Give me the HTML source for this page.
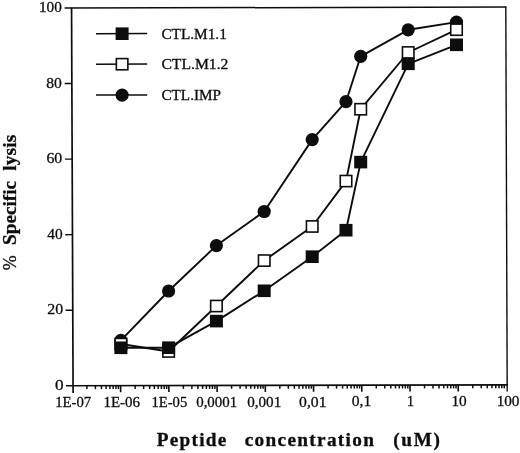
<!DOCTYPE html>
<html><head><meta charset="utf-8"><title>Peptide concentration vs specific lysis</title>
<style>
html,body{margin:0;padding:0;background:#fff;}
svg{display:block;filter:grayscale(1);}
text{font-family:"Liberation Serif","DejaVu Serif",serif;fill:#0d0d0d;stroke:#0d0d0d;stroke-width:0.3px;}
</style></head><body>
<svg width="520" height="453" viewBox="0 0 520 453">
<rect width="520" height="453" fill="#fff"/>

<g stroke="#0d0d0d" fill="none" stroke-linecap="butt">
<line x1="64.6" y1="8.1" x2="506.3" y2="7.0" stroke-width="1.5"/>
<line x1="505.8" y1="6.5" x2="507.2" y2="391.4" stroke-width="1.4"/>
<line x1="71.55" y1="7.4" x2="73.1" y2="393.0" stroke-width="1.7"/>
<line x1="66" y1="385.75" x2="507.8" y2="384.85" stroke-width="1.7"/>
<line x1="65.60" y1="310.24" x2="72.80" y2="310.22" stroke-width="1.4"/>
<line x1="65.30" y1="234.68" x2="72.50" y2="234.66" stroke-width="1.4"/>
<line x1="64.99" y1="159.12" x2="72.19" y2="159.10" stroke-width="1.4"/>
<line x1="64.69" y1="83.56" x2="71.89" y2="83.54" stroke-width="1.4"/>
<line x1="86.92" y1="385.80" x2="86.92" y2="389.10" stroke-width="1.5"/>
<line x1="95.41" y1="385.80" x2="95.41" y2="389.10" stroke-width="1.5"/>
<line x1="101.44" y1="385.80" x2="101.44" y2="389.10" stroke-width="1.5"/>
<line x1="106.11" y1="385.80" x2="106.11" y2="389.10" stroke-width="1.5"/>
<line x1="109.93" y1="385.80" x2="109.93" y2="389.10" stroke-width="1.5"/>
<line x1="113.16" y1="385.80" x2="113.16" y2="389.10" stroke-width="1.5"/>
<line x1="115.96" y1="385.80" x2="115.96" y2="389.10" stroke-width="1.5"/>
<line x1="118.42" y1="385.80" x2="118.42" y2="389.10" stroke-width="1.5"/>
<line x1="120.63" y1="385.70" x2="120.65" y2="392.20" stroke-width="1.6"/>
<line x1="135.15" y1="385.70" x2="135.15" y2="389.00" stroke-width="1.5"/>
<line x1="143.64" y1="385.70" x2="143.64" y2="389.00" stroke-width="1.5"/>
<line x1="149.67" y1="385.70" x2="149.67" y2="389.00" stroke-width="1.5"/>
<line x1="154.34" y1="385.70" x2="154.34" y2="389.00" stroke-width="1.5"/>
<line x1="158.16" y1="385.70" x2="158.16" y2="389.00" stroke-width="1.5"/>
<line x1="161.39" y1="385.70" x2="161.39" y2="389.00" stroke-width="1.5"/>
<line x1="164.19" y1="385.70" x2="164.19" y2="389.00" stroke-width="1.5"/>
<line x1="166.65" y1="385.70" x2="166.65" y2="389.00" stroke-width="1.5"/>
<line x1="168.86" y1="385.60" x2="168.88" y2="392.10" stroke-width="1.6"/>
<line x1="183.38" y1="385.60" x2="183.38" y2="388.90" stroke-width="1.5"/>
<line x1="191.87" y1="385.60" x2="191.87" y2="388.90" stroke-width="1.5"/>
<line x1="197.90" y1="385.60" x2="197.90" y2="388.90" stroke-width="1.5"/>
<line x1="202.57" y1="385.60" x2="202.57" y2="388.90" stroke-width="1.5"/>
<line x1="206.39" y1="385.60" x2="206.39" y2="388.90" stroke-width="1.5"/>
<line x1="209.62" y1="385.60" x2="209.62" y2="388.90" stroke-width="1.5"/>
<line x1="212.42" y1="385.60" x2="212.42" y2="388.90" stroke-width="1.5"/>
<line x1="214.88" y1="385.60" x2="214.88" y2="388.90" stroke-width="1.5"/>
<line x1="217.09" y1="385.50" x2="217.11" y2="392.00" stroke-width="1.6"/>
<line x1="231.61" y1="385.50" x2="231.61" y2="388.80" stroke-width="1.5"/>
<line x1="240.10" y1="385.50" x2="240.10" y2="388.80" stroke-width="1.5"/>
<line x1="246.13" y1="385.50" x2="246.13" y2="388.80" stroke-width="1.5"/>
<line x1="250.80" y1="385.50" x2="250.80" y2="388.80" stroke-width="1.5"/>
<line x1="254.62" y1="385.50" x2="254.62" y2="388.80" stroke-width="1.5"/>
<line x1="257.85" y1="385.50" x2="257.85" y2="388.80" stroke-width="1.5"/>
<line x1="260.65" y1="385.50" x2="260.65" y2="388.80" stroke-width="1.5"/>
<line x1="263.11" y1="385.50" x2="263.11" y2="388.80" stroke-width="1.5"/>
<line x1="265.32" y1="385.40" x2="265.34" y2="391.90" stroke-width="1.6"/>
<line x1="279.84" y1="385.40" x2="279.84" y2="388.70" stroke-width="1.5"/>
<line x1="288.33" y1="385.40" x2="288.33" y2="388.70" stroke-width="1.5"/>
<line x1="294.36" y1="385.40" x2="294.36" y2="388.70" stroke-width="1.5"/>
<line x1="299.03" y1="385.40" x2="299.03" y2="388.70" stroke-width="1.5"/>
<line x1="302.85" y1="385.40" x2="302.85" y2="388.70" stroke-width="1.5"/>
<line x1="306.08" y1="385.40" x2="306.08" y2="388.70" stroke-width="1.5"/>
<line x1="308.88" y1="385.40" x2="308.88" y2="388.70" stroke-width="1.5"/>
<line x1="311.34" y1="385.40" x2="311.34" y2="388.70" stroke-width="1.5"/>
<line x1="313.55" y1="385.30" x2="313.57" y2="391.80" stroke-width="1.6"/>
<line x1="328.07" y1="385.30" x2="328.07" y2="388.60" stroke-width="1.5"/>
<line x1="336.56" y1="385.30" x2="336.56" y2="388.60" stroke-width="1.5"/>
<line x1="342.59" y1="385.30" x2="342.59" y2="388.60" stroke-width="1.5"/>
<line x1="347.26" y1="385.30" x2="347.26" y2="388.60" stroke-width="1.5"/>
<line x1="351.08" y1="385.30" x2="351.08" y2="388.60" stroke-width="1.5"/>
<line x1="354.31" y1="385.30" x2="354.31" y2="388.60" stroke-width="1.5"/>
<line x1="357.11" y1="385.30" x2="357.11" y2="388.60" stroke-width="1.5"/>
<line x1="359.57" y1="385.30" x2="359.57" y2="388.60" stroke-width="1.5"/>
<line x1="361.78" y1="385.20" x2="361.80" y2="391.70" stroke-width="1.6"/>
<line x1="376.30" y1="385.20" x2="376.30" y2="388.50" stroke-width="1.5"/>
<line x1="384.79" y1="385.20" x2="384.79" y2="388.50" stroke-width="1.5"/>
<line x1="390.82" y1="385.20" x2="390.82" y2="388.50" stroke-width="1.5"/>
<line x1="395.49" y1="385.20" x2="395.49" y2="388.50" stroke-width="1.5"/>
<line x1="399.31" y1="385.20" x2="399.31" y2="388.50" stroke-width="1.5"/>
<line x1="402.54" y1="385.20" x2="402.54" y2="388.50" stroke-width="1.5"/>
<line x1="405.34" y1="385.20" x2="405.34" y2="388.50" stroke-width="1.5"/>
<line x1="407.80" y1="385.20" x2="407.80" y2="388.50" stroke-width="1.5"/>
<line x1="410.01" y1="385.10" x2="410.03" y2="391.60" stroke-width="1.6"/>
<line x1="424.53" y1="385.10" x2="424.53" y2="388.40" stroke-width="1.5"/>
<line x1="433.02" y1="385.10" x2="433.02" y2="388.40" stroke-width="1.5"/>
<line x1="439.05" y1="385.10" x2="439.05" y2="388.40" stroke-width="1.5"/>
<line x1="443.72" y1="385.10" x2="443.72" y2="388.40" stroke-width="1.5"/>
<line x1="447.54" y1="385.10" x2="447.54" y2="388.40" stroke-width="1.5"/>
<line x1="450.77" y1="385.10" x2="450.77" y2="388.40" stroke-width="1.5"/>
<line x1="453.57" y1="385.10" x2="453.57" y2="388.40" stroke-width="1.5"/>
<line x1="456.03" y1="385.10" x2="456.03" y2="388.40" stroke-width="1.5"/>
<line x1="458.24" y1="385.00" x2="458.26" y2="391.50" stroke-width="1.6"/>
<line x1="472.76" y1="385.00" x2="472.76" y2="388.30" stroke-width="1.5"/>
<line x1="481.25" y1="385.00" x2="481.25" y2="388.30" stroke-width="1.5"/>
<line x1="487.28" y1="385.00" x2="487.28" y2="388.30" stroke-width="1.5"/>
<line x1="491.95" y1="385.00" x2="491.95" y2="388.30" stroke-width="1.5"/>
<line x1="495.77" y1="385.00" x2="495.77" y2="388.30" stroke-width="1.5"/>
<line x1="499.00" y1="385.00" x2="499.00" y2="388.30" stroke-width="1.5"/>
<line x1="501.80" y1="385.00" x2="501.80" y2="388.30" stroke-width="1.5"/>
<line x1="504.26" y1="385.00" x2="504.26" y2="388.30" stroke-width="1.5"/>
</g>
<polyline fill="none" stroke="#0d0d0d" stroke-width="1.9" stroke-linejoin="round" points="120.9,340.3 168.6,291.0 216.4,245.6 264.2,211.5 312.2,139.6 346.0,101.7 360.7,56.3 408.2,29.8 456.5,22.1"/><circle cx="120.9" cy="340.3" r="6.6" fill="#0d0d0d"/><circle cx="168.6" cy="291.0" r="6.6" fill="#0d0d0d"/><circle cx="216.4" cy="245.6" r="6.6" fill="#0d0d0d"/><circle cx="264.2" cy="211.5" r="6.6" fill="#0d0d0d"/><circle cx="312.2" cy="139.6" r="6.6" fill="#0d0d0d"/><circle cx="346.0" cy="101.7" r="6.6" fill="#0d0d0d"/><circle cx="360.7" cy="56.3" r="6.6" fill="#0d0d0d"/><circle cx="408.2" cy="29.8" r="6.6" fill="#0d0d0d"/><circle cx="456.5" cy="22.1" r="6.6" fill="#0d0d0d"/>
<polyline fill="none" stroke="#0d0d0d" stroke-width="1.9" stroke-linejoin="round" points="120.9,344.0 168.6,351.5 216.4,306.0 264.2,260.6 312.2,226.5 346.0,181.1 360.7,109.2 408.2,52.5 456.5,29.7"/><rect x="115.15" y="338.43" width="11.5" height="11.2" fill="#fff" stroke="#0d0d0d" stroke-width="1.6"/><rect x="162.85" y="345.88" width="11.5" height="11.2" fill="#fff" stroke="#0d0d0d" stroke-width="1.6"/><rect x="210.65" y="300.43" width="11.5" height="11.2" fill="#fff" stroke="#0d0d0d" stroke-width="1.6"/><rect x="258.45" y="254.98" width="11.5" height="11.2" fill="#fff" stroke="#0d0d0d" stroke-width="1.6"/><rect x="306.45" y="220.87" width="11.5" height="11.2" fill="#fff" stroke="#0d0d0d" stroke-width="1.6"/><rect x="340.25" y="175.46" width="11.5" height="11.2" fill="#fff" stroke="#0d0d0d" stroke-width="1.6"/><rect x="354.95" y="103.64" width="11.5" height="11.2" fill="#fff" stroke="#0d0d0d" stroke-width="1.6"/><rect x="402.45" y="46.86" width="11.5" height="11.2" fill="#fff" stroke="#0d0d0d" stroke-width="1.6"/><rect x="450.75" y="24.08" width="11.5" height="11.2" fill="#fff" stroke="#0d0d0d" stroke-width="1.6"/>
<polyline fill="none" stroke="#0d0d0d" stroke-width="1.9" stroke-linejoin="round" points="120.9,347.8 168.6,347.7 216.4,321.1 264.2,290.8 312.2,256.7 346.0,230.2 360.7,162.1 408.2,63.8 456.5,44.8"/><rect x="114.4" y="341.5" width="13" height="12.6" fill="#0d0d0d"/><rect x="162.1" y="341.4" width="13" height="12.6" fill="#0d0d0d"/><rect x="209.9" y="314.8" width="13" height="12.6" fill="#0d0d0d"/><rect x="257.7" y="284.5" width="13" height="12.6" fill="#0d0d0d"/><rect x="305.7" y="250.4" width="13" height="12.6" fill="#0d0d0d"/><rect x="339.5" y="223.9" width="13" height="12.6" fill="#0d0d0d"/><rect x="354.2" y="155.8" width="13" height="12.6" fill="#0d0d0d"/><rect x="401.7" y="57.5" width="13" height="12.6" fill="#0d0d0d"/><rect x="450.0" y="38.5" width="13" height="12.6" fill="#0d0d0d"/>
<line x1="96" y1="33.7" x2="147.2" y2="33.6" stroke="#0d0d0d" stroke-width="1.5"/>
<rect x="115.6" y="27.4" width="13" height="12.6" fill="#0d0d0d"/>
<line x1="96" y1="64.2" x2="147.2" y2="64.10000000000001" stroke="#0d0d0d" stroke-width="1.5"/>
<rect x="116.35" y="58.60" width="11.5" height="11.2" fill="#fff" stroke="#0d0d0d" stroke-width="1.6"/>
<line x1="96" y1="95.1" x2="147.2" y2="95.0" stroke="#0d0d0d" stroke-width="1.5"/>
<circle cx="122.1" cy="95.1" r="6.6" fill="#0d0d0d"/>
<text transform="translate(55.27 407.00) scale(0.980 1)" font-size="15">1E-07</text>
<text transform="translate(103.45 406.90) scale(1.000 1)" font-size="15">1E-06</text>
<text transform="translate(151.38 406.80) scale(0.978 1)" font-size="15">1E-05</text>
<text transform="translate(196.20 406.70) scale(0.994 1)" font-size="15">0,0001</text>
<text transform="translate(247.20 406.60) scale(1.008 1)" font-size="15">0,001</text>
<text transform="translate(299.08 406.50) scale(1.046 1)" font-size="15">0,01</text>
<text transform="translate(351.78 406.39) scale(1.038 1)" font-size="15">0,1</text>
<text transform="translate(451.43 406.19) scale(1.019 1)" font-size="15">10</text>
<text transform="translate(496.63 406.09) scale(1.017 1)" font-size="15">100</text>
<text transform="translate(407.03 406.30) scale(0.933 1)" font-size="15">1</text>
<text transform="translate(55.04 389.60) scale(1.111 1)" font-size="15.5">0</text>
<text transform="translate(47.23 314.15) scale(1.025 1)" font-size="15.5">20</text>
<text transform="translate(47.35 238.70) scale(0.990 1)" font-size="15.5">40</text>
<text transform="translate(46.43 163.25) scale(1.025 1)" font-size="15.5">60</text>
<text transform="translate(46.30 87.80) scale(1.007 1)" font-size="15.5">80</text>
<text transform="translate(38.97 12.35) scale(0.986 1)" font-size="15.5">100</text>
<text transform="translate(161.39 38.70) scale(1.020 1)" font-size="15">CTL.M1.1</text>
<text transform="translate(161.38 69.05) scale(1.045 1)" font-size="15">CTL.M1.2</text>
<text transform="translate(161.39 100.00) scale(1.015 1)" font-size="15">CTL.IMP</text>
<text transform="translate(156.73 446.20) scale(1.070 1)" font-size="18" font-weight="bold" letter-spacing="1.19">Peptide</text>
<text transform="translate(244.70 446.20) scale(1.070 1)" font-size="18" font-weight="bold" letter-spacing="1.24">concentration</text>
<text transform="translate(393.20 446.20) scale(1.070 1)" font-size="18" font-weight="bold" letter-spacing="1.58">(uM)</text>
<text transform="translate(15.80 270.30) rotate(-90) scale(0.938 1)" font-size="19">%</text>
<text transform="translate(15.50 244.97) rotate(-90) scale(1.070 1)" font-size="18" font-weight="bold" letter-spacing="-0.01">Specific</text>
<text transform="translate(15.50 170.77) rotate(-90) scale(1.070 1)" font-size="18" font-weight="bold" letter-spacing="0.14">lysis</text>
</svg></body></html>
